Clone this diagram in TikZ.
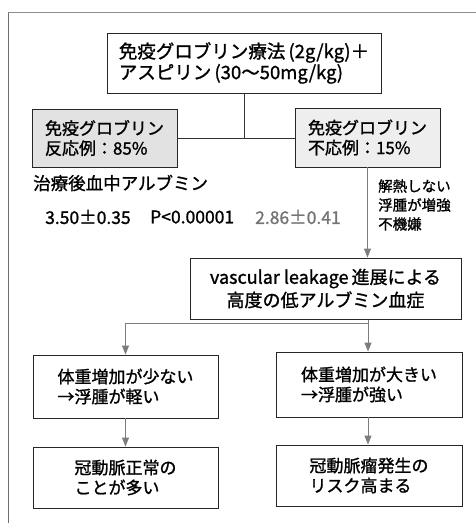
\documentclass[tikz,border=0pt]{standalone}
\usepackage{fontspec}
\setmainfont{Noto Sans CJK JP}[RawFeature={embolden=1.2}]
\usetikzlibrary{arrows.meta}
\definecolor{arrgray}{RGB}{125,125,125}
\definecolor{fillL}{RGB}{226,226,226}
\definecolor{fillR}{RGB}{238,238,238}
\definecolor{framegray}{RGB}{110,110,110}
\begin{document}
\begin{tikzpicture}[x=1pt,y=-1pt,
  box/.style={draw=black!85, line width=0.9pt, align=left, inner sep=0pt,
    font=\fontsize{17}{20}\selectfont},
  arr/.style={draw=arrgray, line width=1pt, -{Triangle[length=9pt,width=7pt,fill=arrgray]}},
  ln/.style={draw=black!80, line width=0.8pt},
  txt/.style={inner sep=0pt, anchor=west, align=left, font=\fontsize{17.5}{20}\selectfont}]
\useasboundingbox (0,0) rectangle (476,523);
% frame
\coordinate (f1) at (8,523);
\coordinate (f2) at (8,12);
\coordinate (f3) at (476,12);
\draw[framegray, line width=0.8pt] (f1) -- (f2);
\draw[black!45, line width=0.6pt] (f2) -- (f3);
% nodes
\node[box, minimum width=274pt, minimum height=60pt, font=\fontsize{18.5}{21}\selectfont] (top) at (244,63)
  {免疫グロブリン療法\,(2g/kg)＋\\アスピリン\,(30〜50mg/kg)};
\node[box, fill=fillL, minimum width=145pt, minimum height=58pt] (resp) at (104.5,138)
  {免疫グロブリン\\反応例：85\%};
\node[box, fill=fillR, minimum width=145pt, minimum height=59pt] (nonresp) at (367.5,137.5)
  {免疫グロブリン\\不応例：15\%};
\node[txt] (alb) at (33,183) {治療後血中アルブミン};
\node[txt] (v1) at (45,217) {3.50±0.35};
\node[txt] (v2) at (150,217) {P<0.00001};
\node[txt, text=black!55] (v3) at (255,217) {2.86±0.41};
\node[txt, font=\fontsize{14.5}{19}\selectfont] (sym) at (378,205) {解熱しない\\浮腫が増強\\不機嫌};
\node[box, align=center, minimum width=271pt, minimum height=61pt, font=\fontsize{18}{23}\selectfont] (mid) at (325.5,288.5)
  {vascular leakage\,進展による\\高度の低アルブミン血症};
\node[box, minimum width=185pt, minimum height=63pt] (l1) at (125.5,386.5)
  {体重増加が少ない\\→浮腫が軽い};
\node[box, minimum width=186pt, minimum height=65pt] (r1) at (369,384.5)
  {体重増加が大きい\\→浮腫が強い};
\node[box, minimum width=185pt, minimum height=61pt] (l2) at (125.5,477.5)
  {冠動脈正常の\\ことが多い};
\node[box, minimum width=186pt, minimum height=61pt] (r2) at (369,475.5)
  {冠動脈瘤発生の\\リスク高まる};
% connectors
\coordinate (j) at (top.south |- resp.east);
\draw[ln] (top.south) -- (j);
\draw[ln] (resp.east) -- (nonresp.west |- resp.east);
\draw[arr] (nonresp.south) -- (nonresp.south |- mid.north);
\coordinate (ms) at (368,319.5);
\coordinate (b) at (368,323);
\draw[arr] (ms) -- (ms |- r1.north);
\draw[arr] (b) -- (l1.north |- b) -- (l1.north);
\draw[arr] (l1.south) -- (l2.north);
\draw[arr] (r1.south -| ms) -- (r2.north -| ms);
\end{tikzpicture}
\end{document}
